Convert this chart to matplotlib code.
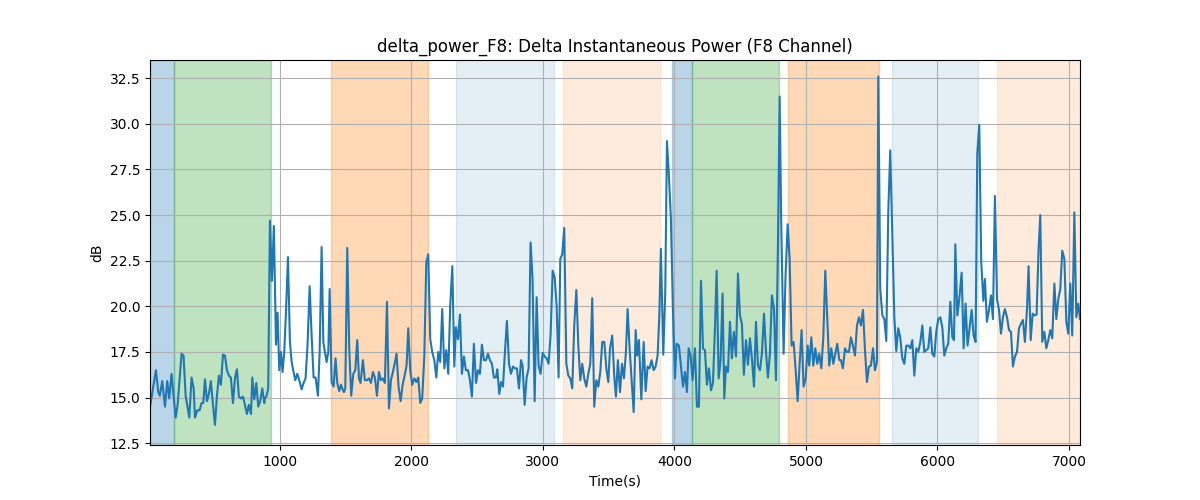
import matplotlib
matplotlib.use('Agg')
import matplotlib.pyplot as plt

title = 'delta_power_F8: Delta Instantaneous Power (F8 Channel)'

time_s = [
    12, 57, 75, 87, 105, 126, 143, 158, 176, 191, 207, 222, 252, 267, 283, 311, 328, 344, 354, 371,
    389, 404, 417, 430, 445, 460, 475, 491, 506, 521, 536, 551, 567, 582, 597, 612, 627, 643, 658, 673,
    688, 703, 719, 734, 749, 764, 780, 790, 805, 820, 835, 850, 866, 881,
    886, 899, 911, 924, 939, 954, 970, 982, 995, 1008, 1020, 1033, 1046, 1061, 1076, 1089, 1101, 1117,
    1132, 1147, 1165, 1180, 1195, 1210, 1226, 1241, 1256, 1271, 1289, 1302, 1317, 1330, 1342, 1355,
    1368, 1378, 1393, 1408, 1423, 1436, 1451, 1464, 1474, 1487, 1497, 1512, 1527, 1542, 1558, 1573,
    1588, 1601, 1613, 1631, 1646, 1662, 1677, 1692, 1707, 1722, 1738, 1753,
    1768, 1783, 1798, 1814, 1829, 1844, 1859, 1875, 1887, 1902, 1918, 1933, 1948, 1963, 1976, 1991,
    2006, 2022, 2037, 2052, 2067, 2082, 2098, 2113, 2128, 2143, 2158, 2174, 2189, 2204, 2219, 2234,
    2250, 2265, 2280, 2295, 2311, 2326, 2338, 2354, 2369, 2384, 2399, 2414, 2430, 2445, 2460, 2475,
    2491, 2506, 2521, 2536, 2551, 2567, 2582, 2597, 2612, 2627,
    2643, 2653, 2668, 2681, 2696, 2711, 2726, 2742, 2757, 2772, 2787, 2802, 2818, 2833, 2845, 2861,
    2876, 2891, 2906, 2921, 2937, 2952, 2967, 2982, 2998, 3013, 3028, 3043, 3058, 3074, 3089, 3104,
    3119, 3132, 3147, 3162, 3178, 3193, 3208, 3223, 3238, 3254, 3269, 3284, 3299, 3314, 3330, 3345,
    3360, 3375, 3390, 3406, 3421, 3436, 3451, 3467, 3482, 3497, 3510,
    3527, 3542, 3555, 3570, 3586, 3601, 3616, 3631, 3644, 3659, 3674, 3690, 3705, 3717, 3730, 3748,
    3766, 3781, 3796, 3811, 3826, 3842, 3857, 3872, 3885, 3897, 3915, 3930, 3943, 3958, 3973, 3989,
    4004, 4016, 4034, 4049, 4065, 4080, 4095, 4108, 4123, 4138, 4156, 4171, 4186, 4202, 4217, 4232,
    4247, 4262, 4278, 4293, 4308, 4321, 4336, 4351, 4366, 4379,
    4392, 4407, 4422, 4437, 4452, 4468, 4483, 4498, 4513, 4528, 4544, 4559, 4574, 4589, 4605, 4620,
    4635, 4650, 4665, 4681, 4696, 4711, 4726, 4741, 4757, 4772, 4787, 4800, 4812, 4830, 4845, 4861,
    4876, 4891, 4906, 4921, 4937, 4952, 4967, 4982, 4998, 5013, 5025, 5041, 5056, 5071, 5086, 5101,
    5117, 5132, 5147, 5162, 5177, 5193, 5208, 5223, 5238, 5254,
    5266, 5281, 5297, 5312, 5327, 5342, 5357, 5373, 5388, 5403, 5418, 5434, 5449, 5464, 5479, 5494,
    5510, 5525, 5540, 5550, 5565, 5581, 5596, 5611, 5626, 5641, 5657, 5672, 5687, 5702, 5717, 5733,
    5748, 5763, 5778, 5794, 5809, 5824, 5839, 5854, 5870, 5885, 5900, 5915, 5930, 5946, 5961, 5976,
    5991, 6006, 6022, 6037, 6052, 6067, 6082, 6098, 6113,
    6126, 6136, 6151, 6166, 6184, 6199, 6214, 6229, 6245, 6260, 6275, 6290, 6303, 6318, 6333, 6349,
    6361, 6376, 6392, 6407, 6422, 6437, 6453, 6468, 6483, 6498, 6513, 6529, 6544, 6559, 6574, 6589,
    6605, 6620, 6635, 6650, 6665, 6681, 6693, 6709, 6724, 6739, 6754, 6769, 6782, 6797, 6813, 6828,
    6843, 6858, 6873, 6889, 6904, 6919, 6934, 6949, 6965, 6980, 6995, 7010, 7025, 7041, 7056, 7071,
    7084,
]

power_db = [
    14.5, 16.5, 15.3, 15.1, 15.9, 14.5, 15.9, 14.95, 16.3, 15.1, 13.9, 14.6, 17.4, 17.3, 15.1, 13.9, 16.1, 15.5, 13.9, 14.3,
    14.3, 14.7, 14.7, 16.0, 14.8, 15.2, 15.9, 14.6, 13.5, 15.1, 16.2, 15.7, 17.35, 17.3, 16.5, 16.2, 16.1, 14.7, 16.05, 16.55,
    15.05, 14.95, 15.05, 14.6, 14.1, 14.6, 14.1, 16.1, 14.9, 15.8, 14.5, 14.8, 15.5, 14.7,
    14.95, 15.1, 15.5, 24.7, 21.4, 24.4, 17.9, 19.65, 16.5, 17.5, 16.4, 17.5, 19.7, 22.7, 18.05, 16.95, 16.5, 15.95,
    16.3, 15.95, 15.45, 15.8, 16.05, 17.9, 21.1, 18.4, 16.1, 16.1, 15.1, 17.5, 23.25, 18.05, 17.5, 16.95,
    17.5, 20.95, 15.85, 15.6, 17.15, 15.8, 15.35, 15.7, 15.5, 15.3, 15.5, 23.2, 17.7, 15.1, 16.3, 16.5,
    18.15, 16.05, 15.8, 17.05, 15.95, 15.95, 16.05, 15.8, 16.4, 16.1, 15.1, 16.4,
    15.95, 16.05, 15.8, 20.25, 14.4, 15.95, 16.4, 16.95, 17.4, 15.6, 14.8, 15.7, 16.2, 16.75, 18.8, 16.5,
    15.7, 16.05, 15.85, 16.1, 14.7, 14.95, 17.3, 22.4, 22.85, 18.2, 17.5, 17.05, 16.1, 17.5, 16.95, 19.85,
    16.6, 17.6, 16.3, 20.05, 22.2, 16.7, 18.85, 18.2, 19.55, 16.3, 17.25, 16.5, 16.5, 15.95, 15.05, 17.95,
    15.8, 16.5, 16.3, 17.9, 17.05, 17.05, 17.4, 17.05, 16.85, 16.1,
    16.1, 16.55, 15.2, 15.85, 15.6, 17.5, 19.2, 16.85, 16.3, 16.7, 16.6, 16.6, 15.5, 17.05, 16.75, 14.6,
    16.1, 16.6, 23.5, 21.5, 14.8, 20.5, 16.75, 16.3, 17.45, 17.25, 17.15, 16.85, 18.4, 21.95, 21.6, 20.05,
    16.1, 22.6, 22.85, 24.3, 16.85, 16.2, 16.05, 15.5, 18.95, 20.9, 17.85, 15.95, 16.85, 16.05, 15.6, 16.3,
    16.85, 20.45, 14.5, 15.95, 15.6, 16.4, 18.05, 18.05, 16.6, 15.85, 17.7,
    18.4, 16.2, 15.05, 17.05, 15.3, 16.85, 16.05, 17.5, 19.85, 17.7, 16.05, 14.2, 18.7, 17.3, 18.15, 14.9,
    18.05, 15.35, 16.7, 16.6, 17.05, 16.5, 16.7, 17.3, 19.5, 23.15, 17.35, 20.7, 29.05, 27.15, 24.8, 19.7,
    16.05, 17.95, 17.85, 16.75, 15.6, 16.4, 15.3, 17.7, 17.3, 15.95, 17.7, 14.5, 14.5, 21.4, 17.7, 17.6,
    15.7, 16.6, 15.4, 15.8, 18.8, 21.95, 16.05, 17.05, 20.7, 14.95,
    16.7, 16.4, 19.15, 17.15, 18.6, 17.25, 21.8, 19.5, 19.05, 16.25, 18.15, 16.8, 18.25, 17.15, 15.6, 19.15,
    16.75, 16.5, 17.4, 19.6, 17.5, 16.1, 17.4, 20.6, 19.85, 15.95, 23.3, 31.5, 24.6, 17.4, 21.7, 24.5,
    22.6, 17.85, 18.05, 16.6, 14.8, 16.85, 18.7, 15.6, 16.05, 17.85, 16.75, 18.3, 16.75, 17.7, 16.85, 17.4,
    16.6, 18.3, 21.95, 19.3, 16.75, 17.7, 16.85, 17.4, 17.95, 17.05,
    17.05, 16.6, 17.7, 17.5, 17.5, 18.3, 17.85, 17.3, 18.95, 19.4, 18.95, 19.8, 17.6, 15.85, 16.7, 16.75,
    17.7, 16.5, 16.95, 32.6, 20.95, 19.5, 19.3, 18.1, 25.15, 28.55, 23.7, 19.4, 17.55, 18.8, 18.3, 17.15,
    16.85, 17.85, 17.85, 17.7, 18.15, 16.2, 17.7, 17.5, 18.05, 18.95, 17.5, 17.6, 17.7, 18.85, 17.4, 17.25,
    18.6, 19.3, 19.4, 18.85, 17.3, 17.7, 17.95, 20.25, 18.3,
    18.15, 23.4, 19.5, 20.4, 21.85, 17.7, 20.15, 17.85, 18.85, 19.8, 18.4, 18.05, 28.4, 29.95, 22.4, 20.3,
    21.5, 19.15, 19.8, 20.6, 19.3, 26.05, 20.4, 19.8, 18.5, 19.4, 19.85, 19.4, 18.7, 18.6, 16.7, 17.25,
    17.5, 18.8, 19.05, 19.25, 18.05, 19.85, 22.2, 18.15, 19.6, 19.5, 19.55, 23.15, 25.0, 18.05, 18.6, 17.7,
    18.15, 18.7, 18.25, 21.25, 19.3, 20.4, 20.95, 23.05, 22.6, 19.15, 18.5, 21.25, 18.4, 25.15, 19.4, 20.15,
    19.3,
]

# shaded periods: (start, end, colour, alpha)
span_starts = [12, 196, 1388, 2338, 3152, 3984, 4136, 4863, 5654, 6452]
span_ends = [196, 929, 2123, 3081, 3887, 4136, 4792, 5553, 6306, 7084]
span_colors = ['tab:blue', 'tab:green', 'tab:orange', 'tab:blue', 'tab:orange',
               'tab:blue', 'tab:green', 'tab:orange', 'tab:blue', 'tab:orange']
span_alphas = [0.3, 0.3, 0.3, 0.12, 0.15, 0.3, 0.3, 0.3, 0.12, 0.15]

fig, ax = plt.subplots(figsize=(12, 5), dpi=100)

for s, e, c, a in zip(span_starts, span_ends, span_colors, span_alphas):
    ax.axvspan(s, e, color=c, alpha=a)

ax.plot(time_s, power_db, color='tab:blue')
ax.set_xlim(time_s[0], time_s[-1])
ax.set_ylim(12.4, 33.5)
ax.grid(True)
ax.set_title(title)
ax.set_xlabel('Time(s)')
ax.set_ylabel('dB')

fig.savefig('out.png')
